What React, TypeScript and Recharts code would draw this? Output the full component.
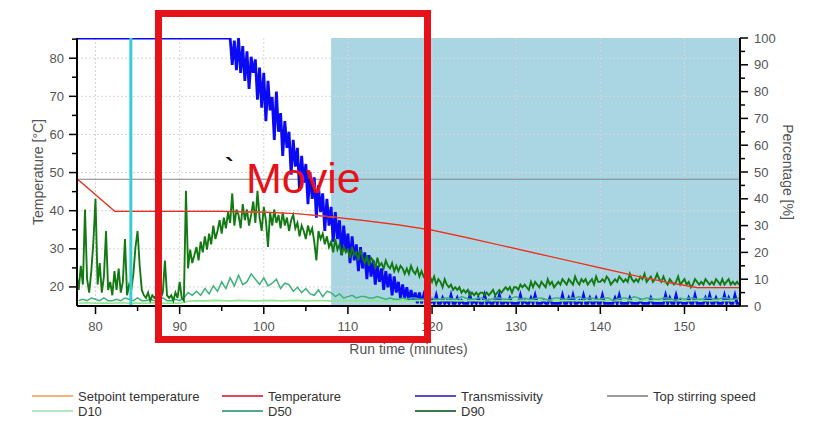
import React from "react";
import {
  ComposedChart,
  Line,
  XAxis,
  YAxis,
  CartesianGrid,
  ReferenceArea,
  ReferenceLine,
} from "recharts";

// axis ticks
const timeTicks = [80, 85, 90, 95, 100, 105, 110, 115, 120, 125, 130, 135, 140, 145, 150, 155];
const tempTicks = [20, 25, 30, 35, 40, 45, 50, 55, 60, 65, 70, 75, 80, 85];
const pctTicks = [0, 5, 10, 15, 20, 25, 30, 35, 40, 45, 50, 55, 60, 65, 70, 75, 80, 85, 90, 95, 100];
const timeGrid = [80, 90, 100, 110, 120, 130, 140, 150];
const tempGrid = [20, 30, 40, 50, 60, 70, 80];

// temperature (°C) – setpoint follows the same ramp
const tempTimes = [77.8, 82.3, 90, 95, 100, 104, 108, 112, 116, 120, 124, 128, 132, 136, 140, 144, 148, 151.5, 156.6];
const tempValues = [48.4, 39.8, 39.8, 39.8, 39.6, 39.2, 38.4, 37.4, 36.3, 34.9, 33, 31, 29, 27, 25, 23, 21.2, 19.8, 19.8];
const setpointValues = [48.4, 39.8, 39.8, 39.8, 39.6, 39.2, 38.4, 37.4, 36.3, 34.9, 33, 31, 29, 27, 25, 23, 21.2, 19.8, 19.8];

// stirring speed (%)
const stirTimes = [77.8, 156.6];
const stirValues = [47.3, 47.3];

// transmissivity (%): flat at 100 until 95.75, then sampled every 0.25 min from 96
const transHeadTimes = [77.8, 95.75];
const transHeadValues = [100, 100];
const transStart = 96;
const transStep = 0.25;
const transmissivity = [
  100, 90, 99, 88, 100, 87, 97, 84, 95, 81, 93, 87, 92, 77, 89, 74,
  87, 69, 84, 73, 78, 62, 80, 65, 72, 56, 69, 59, 65, 49, 62, 52,
  59, 43, 56, 46, 53, 38, 50, 40, 48, 33, 45, 35, 42, 28, 40, 30,
  37, 24, 35, 25, 32, 19, 30, 21, 27, 16, 26, 17, 23, 13, 22, 14,
  20, 10, 19, 11, 17, 8, 15, 9, 14, 6, 13, 7, 12, 4, 11, 5,
  9, 3, 8, 3, 7, 2, 6, 2, 5, 1, 5, 1, 4, 1, 4, 1,
  2, 1, 4, 1, 1, 3, 1, 2, 1, 4, 1, 1, 3, 1, 2, 1,
  1, 1, 4, 1, 2, 1, 3, 1, 1, 4, 1, 2, 1, 1, 3, 1,
  4, 1, 1, 2, 1, 3, 1, 1, 1, 1, 4, 1, 2, 1, 1, 3,
  1, 4, 1, 1, 1, 2, 1, 1, 3, 1, 1, 1, 1, 1, 4, 1,
  1, 3, 1, 4, 1, 1, 2, 1, 4, 1, 1, 3, 1, 1, 3, 1,
  1, 4, 1, 1, 1, 1, 1, 3, 1, 4, 1, 1, 1, 1, 3, 1,
  1, 1, 1, 2, 1, 1, 1, 1, 3, 1, 1, 1, 1, 1, 1, 4,
  1, 3, 1, 1, 4, 1, 2, 1, 1, 1, 3, 1, 1, 4, 1, 1,
  1, 1, 3, 1, 4, 1, 1, 3, 1, 1, 1, 4, 1, 3, 1, 1,
  4, 1, 1,
];

// D90 (%), every 0.25 min from 77.75
const d90Start = 77.75;
const d90Step = 0.25;
const d90 = [
  12,
  6, 15, 8, 36, 10, 5, 13, 24, 40, 8, 16, 5, 11, 28, 6, 9,
  4, 13, 6, 14, 5, 9, 25, 4, 8, 6, 12, 22, 28, 15, 6, 4,
  3, 5, 2, 4, 3, 4, 6, 3, 5, 17, 4, 3, 4, 2, 5, 3,
  9, 3, 2, 43, 14, 21, 16, 19, 22, 17, 24, 20, 26, 21, 27, 23,
  30, 25, 28, 32, 27, 33, 29, 35, 31, 42, 30, 36, 34, 29, 38, 32,
  36, 30, 34, 39, 31, 43, 33, 28, 37, 32, 22, 35, 30, 36, 31, 34,
  29, 35, 30, 33, 28, 32, 34, 29, 31, 26, 30, 28, 25, 30, 27, 29,
  24, 17, 28, 25, 27, 23, 26, 22, 24, 20, 25, 21, 23, 19, 22, 20,
  21, 18, 22, 19, 20, 17, 21, 18, 16, 19, 15, 18, 17, 14, 18, 15,
  16, 14, 17, 15, 14, 16, 13, 15, 13, 15, 14, 12, 14, 12, 15, 13,
  12, 14, 11, 13, 11, 12, 10, 11, 9, 11, 8, 10, 9, 7, 10, 8,
  7, 8, 6, 7, 6, 7, 5, 6, 5, 6, 4, 5, 4, 5, 4, 5,
  5, 4, 5, 4, 5, 6, 4, 5, 6, 5, 6, 7, 6, 7, 5, 7,
  7, 6, 8, 7, 8, 7, 6, 9, 7, 9, 8, 7, 9, 8, 7, 10,
  8, 9, 7, 8, 9, 8, 10, 9, 8, 10, 9, 8, 11, 9, 8, 10,
  9, 10, 8, 9, 10, 8, 11, 9, 9, 10, 9, 11, 10, 8, 9, 10,
  9, 11, 10, 9, 10, 9, 12, 10, 9, 10, 9, 11, 10, 12, 9, 10,
  11, 9, 10, 12, 10, 9, 11, 9, 8, 10, 9, 8, 9, 11, 8, 9,
  10, 8, 9, 7, 8, 10, 9, 8, 9, 8, 10, 9, 8, 9, 8, 10,
  9, 8, 10, 8, 9, 10, 8, 9, 8, 9, 8,
];

// D50 (%), every 0.5 min from 78
const d50Start = 78;
const d50Step = 0.5;
const d50 = [
  2, 2.5, 2, 3, 2.5, 2, 3, 2, 2, 2.5, 2, 3, 2.5, 2, 3, 2,
  2, 2.5, 2, 2, 3, 2, 2, 2.5, 2, 3, 5, 4, 5.5, 4, 6.5, 4.5,
  7.5, 5.5, 9, 6.5, 10.5, 7.5, 11.5, 8, 9, 12, 10, 8, 10.5, 7.5, 8.5, 10,
  6.5, 8.5, 8, 5.5, 7, 5, 6.5, 4.5, 4, 6, 3.5, 5.5, 5, 3.5, 4.5, 3,
  3.5, 4, 3, 3.5, 3.5, 3, 3, 3.5, 3, 2.5, 3, 2.5, 2.5, 3, 2.5, 3,
  3, 2.5, 2.5, 3, 3, 2.5, 2.5, 3, 3, 2.5, 2.5, 3.5, 3, 2.5, 2.5, 3,
  3, 2, 2.5, 3, 3, 2.5, 2.5, 3, 3.5, 2.5, 3, 2.5, 2.5, 3, 3, 2.5,
  2, 3, 3, 2.5, 2.5, 3, 3, 3.5, 2.5, 3, 3, 2.5, 2.5, 3, 3, 2,
  2.5, 3, 3, 2.5, 3.5, 3, 2.5, 3, 3, 2.5, 2.5, 3, 3, 2.5, 2, 3,
  2.5, 3, 3, 2.5, 2.5, 3, 3, 2.5, 2.5, 3, 3, 2.5, 2.5, 3,
];

// D10 (%), every minute from 78
const d10Start = 78;
const d10Step = 1;
const d10 = [
  1, 1.2, 1, 1.1, 1, 1.2, 1, 1.1, 1, 1.2, 1, 1.1, 1,
  1.8, 2, 1.9, 2.1, 2, 1.9, 2.1, 2, 1.9, 2,
  2.1, 1.9, 2, 2.1, 1.9, 2, 2, 1.9, 2.1, 2,
  1.9, 2, 2.1, 1.9, 2, 2, 1.9, 2.1, 2, 1.9,
  2, 2.1, 1.9, 2, 2, 1.9, 2.1, 2, 1.9, 2,
  2.1, 1.9, 2, 2.1, 1.9, 2, 2, 1.9, 2.1, 2,
  1.9, 2, 2.1, 1.9, 2, 2, 1.9, 2.1, 2, 1.9,
  2, 2.1, 1.9, 2, 2, 1.9,
];

// movie window / marker (minutes)
const movieStart = 108;
const movieEnd = 156.6;
const markerTime = 84.2;

const legendItems = [
  { name: "Setpoint temperature", color: "#f3b07a" },
  { name: "Temperature", color: "#e0465a" },
  { name: "Transmissivity", color: "#5a4ec6" },
  { name: "Top stirring speed", color: "#9c9c9c" },
  { name: "D10", color: "#b6e6bf" },
  { name: "D50", color: "#56a98a" },
  { name: "D90", color: "#3a7a48" },
];

const pairs = (times: number[], values: number[]) =>
  values.map((v, i) => ({ t: times[i], v }));
const sampled = (start: number, step: number, values: number[]) =>
  values.map((v, i) => ({ t: start + i * step, v }));

const temperatureData = pairs(tempTimes, tempValues);
const setpointData = pairs(tempTimes, setpointValues);
const stirData = pairs(stirTimes, stirValues);
const transData = [
  ...pairs(transHeadTimes, transHeadValues),
  ...sampled(transStart, transStep, transmissivity),
];
const d90Data = sampled(d90Start, d90Step, d90);
const d50Data = sampled(d50Start, d50Step, d50);
const d10Data = sampled(d10Start, d10Step, d10);

const FONT = "'Liberation Sans', Arial, sans-serif";
const TICK_COLOR = "#555";

function LeftTick(props: any) {
  const { x, y, payload } = props;
  const major = payload.value % 10 === 0;
  return (
    <g>
      <line x1={x} y1={y} x2={x - (major ? 8 : 5)} y2={y} stroke="#000" strokeWidth={1.5} />
      {major && (
        <text x={x - 13} y={y + 4.5} textAnchor="end" fontSize={13} fill={TICK_COLOR} fontFamily={FONT}>
          {payload.value}
        </text>
      )}
    </g>
  );
}

function RightTick(props: any) {
  const { x, y, payload } = props;
  const major = payload.value % 10 === 0;
  return (
    <g>
      <line x1={x} y1={y} x2={x + (major ? 8 : 5)} y2={y} stroke="#000" strokeWidth={1.5} />
      {major && (
        <text x={x + 14} y={y + 4.5} textAnchor="start" fontSize={13} fill={TICK_COLOR} fontFamily={FONT}>
          {payload.value}
        </text>
      )}
    </g>
  );
}

function BottomTick(props: any) {
  const { x, y, payload } = props;
  const major = payload.value % 10 === 0;
  return (
    <g>
      <line x1={x} y1={y} x2={x} y2={y + (major ? 8 : 5)} stroke="#000" strokeWidth={1.5} />
      {major && (
        <text x={x} y={y + 25} textAnchor="middle" fontSize={13} fill={TICK_COLOR} fontFamily={FONT}>
          {payload.value}
        </text>
      )}
    </g>
  );
}

export default function App() {
  const legendCols = [32, 222, 415, 607];
  const legendRows = [396, 411];
  return (
    <div style={{ position: "absolute", left: 0, top: 0, width: 820, height: 425, background: "#fff" }}>
      <ComposedChart
        width={820}
        height={360}
        margin={{ top: 38, right: 20, bottom: 14, left: 17 }}
      >
        <ReferenceArea
          yAxisId="pct"
          x1={movieStart}
          x2={movieEnd}
          y1={0}
          y2={100}
          fill="#aad6e4"
          fillOpacity={1}
          stroke="none"
          zIndex={-200}
        />
        <CartesianGrid
          yAxisId="temp"
          verticalValues={timeGrid}
          horizontalValues={tempGrid}
          stroke="#d6d6d6"
          strokeDasharray="2 2"
        />
        <XAxis
          dataKey="t"
          type="number"
          domain={[77.8, 156.6]}
          allowDataOverflow
          ticks={timeTicks}
          interval={0}
          tickSize={0}
          tickMargin={0}
          tick={(p: any) => <BottomTick {...p} />}
          axisLine={{ stroke: "#000", strokeWidth: 2 }}
          height={40}
          label={{ value: "Run time (minutes)", position: "center", dy: 23, fontSize: 14, fill: TICK_COLOR, fontFamily: FONT }}
        />
        <YAxis
          yAxisId="temp"
          type="number"
          domain={[15, 85.3]}
          allowDataOverflow
          ticks={tempTicks}
          interval={0}
          tickSize={0}
          tickMargin={0}
          tick={(p: any) => <LeftTick {...p} />}
          axisLine={{ stroke: "#000", strokeWidth: 2 }}
          width={60}
          label={{ value: "Temperature [°C]", angle: -90, position: "center", dx: -9, fontSize: 14, fill: TICK_COLOR, fontFamily: FONT }}
        />
        <YAxis
          yAxisId="pct"
          orientation="right"
          type="number"
          domain={[0, 100]}
          allowDataOverflow
          ticks={pctTicks}
          interval={0}
          tickSize={0}
          tickMargin={0}
          tick={(p: any) => <RightTick {...p} />}
          axisLine={{ stroke: "#000", strokeWidth: 2 }}
          width={60}
          label={{ value: "Percentage [%]", angle: 90, position: "center", dx: 18, fontSize: 14, fill: TICK_COLOR, fontFamily: FONT }}
        />
        <Line yAxisId="pct" data={stirData} dataKey="v" stroke="#858585" strokeWidth={1.2} dot={false} isAnimationActive={false} />
        <Line yAxisId="pct" data={transData} dataKey="v" stroke="#0a0af5" strokeWidth={2.8} dot={false} isAnimationActive={false} />
        <Line yAxisId="pct" data={d10Data} dataKey="v" stroke="#8ee68e" strokeWidth={1.6} dot={false} isAnimationActive={false} />
        <Line yAxisId="pct" data={d50Data} dataKey="v" stroke="#3fb27a" strokeWidth={1.5} dot={false} isAnimationActive={false} />
        <Line yAxisId="pct" data={d90Data} dataKey="v" stroke="#137a13" strokeWidth={1.9} dot={false} isAnimationActive={false} />
        <Line yAxisId="temp" data={setpointData} dataKey="v" stroke="#f5a142" strokeWidth={1.2} dot={false} isAnimationActive={false} />
        <Line yAxisId="temp" data={temperatureData} dataKey="v" stroke="#e52b2b" strokeWidth={1.2} dot={false} isAnimationActive={false} />
        <ReferenceLine yAxisId="pct" x={markerTime} stroke="#35cfd0" strokeWidth={3} />
      </ComposedChart>
      <svg
        width={820}
        height={425}
        style={{ position: "absolute", left: 0, top: 0, pointerEvents: "none" }}
      >
        <rect x={158.5} y={13.5} width={269} height={326} fill="none" stroke="#e6121a" strokeWidth={7} />
        <text x={246} y={193} fontSize={43} fill="#e6121a" fontFamily={FONT}>Movie</text>
        <text x={225} y={176} fontSize={26} fontWeight="bold" fill="#111" fontFamily={FONT}>`</text>
        {legendItems.map((it, i) => {
          const col = i < 4 ? i : i - 4;
          const row = i < 4 ? 0 : 1;
          const x = legendCols[col];
          const y = legendRows[row];
          return (
            <g key={it.name}>
              <line x1={x} y1={y} x2={x + 41} y2={y} stroke={it.color} strokeWidth={2} />
              <text x={x + 46} y={y + 4.5} fontSize={13} fill="#333" fontFamily={FONT}>
                {it.name}
              </text>
            </g>
          );
        })}
      </svg>
    </div>
  );
}
